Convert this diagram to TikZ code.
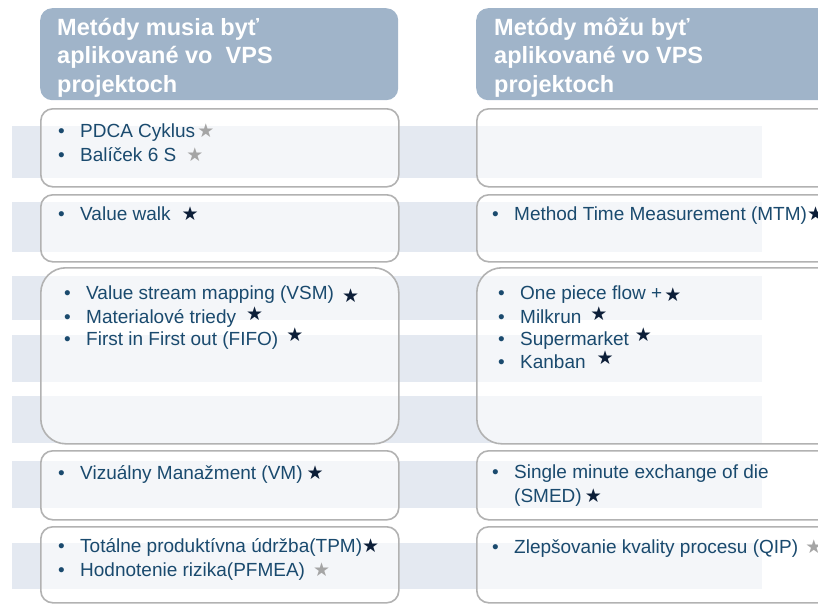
\documentclass[tikz,border=0pt]{standalone}
\usepackage{fontspec}
\setmainfont{Liberation Sans}
\newfontfamily\starfont{DejaVu Sans}
\usetikzlibrary{positioning}
\definecolor{bandgray}{RGB}{228,233,241}
\definecolor{headblue}{RGB}{160,180,201}
\definecolor{framegray}{RGB}{178,178,178}
\definecolor{itemblue}{RGB}{26,74,110}
\definecolor{starblack}{RGB}{12,30,56}
\definecolor{stargray}{RGB}{165,165,165}
\newcommand{\bst}[1][0pt]{\raisebox{#1}{\starfont\color{starblack}★}}
\newcommand{\gst}[1][0pt]{\raisebox{#1}{\starfont\color{stargray}★}}
\newcommand{\bul}{\makebox[22pt][l]{\textbullet}}

\begin{document}
\begin{tikzpicture}[x=1pt,y=-1pt,
	head/.style={fill=headblue,rounded corners=12pt,anchor=north west,inner sep=0pt,minimum height=92pt},
	box/.style={draw=framegray,line width=1.6pt,fill=white,fill opacity=0.6,rounded corners=12pt,anchor=north west,inner sep=0pt},
	htxt/.style={anchor=base west,inner sep=0pt,text=white,font=\fontsize{23.5pt}{28pt}\selectfont\bfseries},
	itm/.style={anchor=base west,inner sep=0pt,text=itemblue,font=\fontsize{19pt}{23pt}\selectfont}
]
	\useasboundingbox (0,0) rectangle (818,603);
	\clip (0,0) rectangle (818,603);
	\fill[white] (0,0) rectangle (818,603);
	\foreach \a/\b in {126/178,202/252,276/320,335/382,396/443,461/508,543/589}
		\fill[bandgray] (12,\a) rectangle (762,\b);

	\node[head,minimum width=358pt] (hl) at (40,8) {};
	\node[head,minimum width=370pt] (hr) at (476,8) {};
	\foreach \t [count=\i from 0] in {Metódy musia byť,aplikované vo~ VPS,projektoch}
		\node[htxt] (hl\i) at (57,{35+28.5*\i}) {\t};
	\foreach \t [count=\i from 0] in {Metódy môžu byť,aplikované vo VPS,projektoch}
		\node[htxt] (hr\i) at (494,{35+28.5*\i}) {\t};

	\node[box,minimum width=358pt,minimum height=78pt] (l1) at (40,108) {};
	\node[box,minimum width=358pt,minimum height=67pt] (l2) at (40,194) {};
	\node[box,minimum width=358pt,minimum height=176pt,rounded corners=25pt] (l3) at (40,267) {};
	\node[box,minimum width=358pt,minimum height=69pt] (l4) at (40,450) {};
	\node[box,minimum width=358pt,minimum height=76pt] (l5) at (40,526) {};
	\node[box,minimum width=370pt,minimum height=78pt] (r1) at (476,108) {};
	\node[box,minimum width=370pt,minimum height=67pt] (r2) at (476,194) {};
	\node[box,minimum width=370pt,minimum height=176pt,rounded corners=25pt] (r3) at (476,267) {};
	\node[box,minimum width=370pt,minimum height=69pt] (r4) at (476,450) {};
	\node[box,minimum width=370pt,minimum height=76pt] (r5) at (476,526) {};

	\node[itm] (l1a) at (58,137) {\bul PDCA Cyklus\hspace{2pt}\gst};
	\node[itm] (l1b) at (58,161) {\bul Balíček 6 S\hspace{10pt}\gst};
	\node[itm] (l2a) at (58,220) {\bul Value walk\hspace{11pt}\bst};
	\node[itm] (l3a) at (64,299) {\bul Value stream mapping (VSM)\hspace{8pt}\bst[-3pt]};
	\node[itm] (l3b) at (64,323) {\bul Materialové triedy\hspace{10pt}\bst[3pt]};
	\node[itm] (l3c) at (64,345) {\bul First in First out (FIFO)\hspace{8pt}\bst[4pt]};
	\node[itm] (l4a) at (58,479) {\bul Vizuálny Manažment (VM)\hspace{4pt}\bst};
	\node[itm] (l5a) at (58,552) {\bul Totálne produktívna údržba(TPM)\bst};
	\node[itm] (l5b) at (58,576) {\bul Hodnotenie rizika(PFMEA)\hspace{8pt}\gst};

	\node[itm] (r2a) at (492,220) {\bul Method Time Measurement (MTM)\bst};
	\node[itm] (r3a) at (498,299) {\bul One piece flow +\hspace{2pt}\bst[-2pt]};
	\node[itm] (r3b) at (498,323) {\bul Milkrun\hspace{9pt}\bst[3pt]};
	\node[itm] (r3c) at (498,345) {\bul Supermarket\hspace{6pt}\bst[4pt]};
	\node[itm] (r3d) at (498,368) {\bul Kanban\hspace{11pt}\bst[4pt]};
	\node[itm] (r4a) at (492,478) {\bul Single minute exchange of die};
	\node[itm] (r4b) at (492,502) {\hspace{22pt}(SMED)\hspace{3pt}\bst};
	\node[itm] (r5a) at (492,553) {\bul Zlepšovanie kvality procesu (QIP)\hspace{7pt}\gst};
\end{tikzpicture}
\end{document}
